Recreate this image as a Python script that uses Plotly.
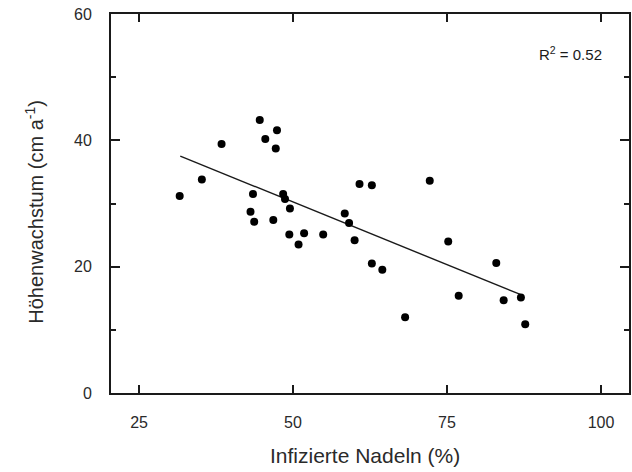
import plotly.graph_objects as go

# Data
infizierte_nadeln = [31.6, 35.2, 38.4, 44.6, 47.4, 45.5, 47.2, 43.5, 48.4, 48.7,
                     49.5, 43.1, 43.7, 46.8, 49.4, 51.8, 50.9, 54.9, 58.4, 59.1,
                     60.0, 60.8, 62.8, 72.2, 62.8, 64.5, 75.2, 83.0, 68.2, 76.9,
                     84.2, 87.0, 87.7]
hoehenwachstum = [31.2, 33.8, 39.4, 43.2, 41.6, 40.2, 38.7, 31.5, 31.5, 30.7,
                  29.2, 28.7, 27.1, 27.4, 25.1, 25.3, 23.5, 25.1, 28.4, 26.9,
                  24.2, 33.1, 32.9, 33.6, 20.5, 19.5, 24.0, 20.6, 12.0, 15.4,
                  14.7, 15.1, 10.9]

# Regression line end points
fit_x = [31.7, 86.9]
fit_y = [37.5, 15.6]

x_tickvals = [25, 50, 75, 100]
y_tickvals = [0, 20, 40, 60]

FONT = "Liberation Sans, Arial, sans-serif"
INK = "#1a1a1a"
TXT = "#2a2a2a"

fig = go.Figure()
fig.add_trace(go.Scatter(x=fit_x, y=fit_y, mode="lines",
                         line=dict(color=INK, width=1.4), showlegend=False,
                         hoverinfo="skip"))
fig.add_trace(go.Scatter(x=infizierte_nadeln, y=hoehenwachstum, mode="markers",
                         marker=dict(color="black", size=8), showlegend=False))

fig.add_annotation(text="R<sup>2</sup> = 0.52", xref="paper", yref="paper",
                   x=0.952, y=0.897, xanchor="right", yanchor="middle",
                   showarrow=False, font=dict(family=FONT, size=15, color=INK))

# Axis titles as annotations for precise placement
fig.add_annotation(text="Infizierte Nadeln (%)", xref="paper", yref="paper",
                   x=0.49, y=-0.164, xanchor="center", yanchor="middle",
                   showarrow=False, font=dict(family=FONT, size=21, color=TXT))
fig.add_annotation(text="Höhenwachstum (cm a<sup>-1</sup>)", xref="paper", yref="paper",
                   x=-0.147, y=0.478, xanchor="center", yanchor="middle",
                   textangle=-90, showarrow=False,
                   font=dict(family=FONT, size=20, color=TXT))

axis_common = dict(showline=True, linecolor=INK, linewidth=2, mirror="ticks",
                   ticks="inside", tickcolor=INK, tickwidth=1.5,
                   showgrid=False, zeroline=False, automargin=False,
                   ticklabeloverflow="allow",
                   tickfont=dict(family=FONT, size=16, color=TXT))

fig.update_xaxes(range=[20.45, 104.55], tickvals=x_tickvals, ticklen=8,
                 ticklabelstandoff=14, **axis_common)
fig.update_yaxes(range=[0, 60], tickvals=y_tickvals, ticklen=9,
                 ticklabelstandoff=14,
                 minor=dict(dtick=10, tick0=0, ticks="inside", ticklen=5,
                            tickcolor=INK, tickwidth=1.5, showgrid=False),
                 **axis_common)

fig.update_layout(width=632, height=472,
                  margin=dict(l=111, r=3, t=14, b=79),
                  paper_bgcolor="white", plot_bgcolor="white",
                  font=dict(family=FONT, color=TXT))

# Remove the default 8px page margin so the figure fills the window exactly
fig.write_html("out.html", config={"displayModeBar": False},
               post_script="document.body.style.margin='0';")
